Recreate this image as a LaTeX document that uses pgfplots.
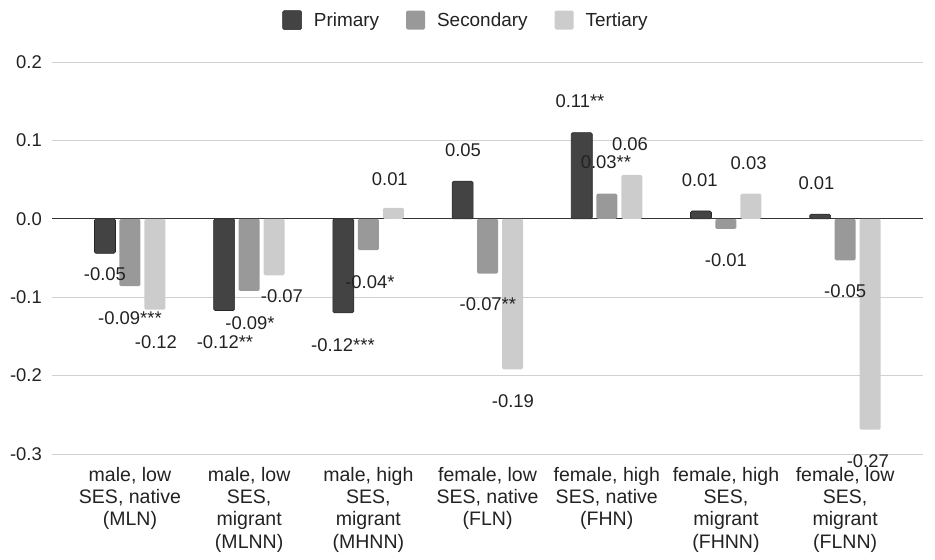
\documentclass[border=0pt]{standalone}
\usepackage{pgfplots}
\pgfplotsset{compat=1.18}
\usepackage{fontspec}
\setmainfont{Liberation Sans}
\definecolor{cP}{HTML}{434343}
\definecolor{cS}{HTML}{999999}
\definecolor{cT}{HTML}{CCCCCC}
\definecolor{txt}{HTML}{222222}
\begin{document}
\begin{tikzpicture}[font=\fontsize{18.5}{22.3}\selectfont]
\path[use as bounding box] (-52bp,-106bp) rectangle (883bp,454bp);
\begin{axis}[
  at={(0,0)}, anchor=south west,
  scale only axis, width=871bp, height=392bp,
  xmin=-0.654, xmax=6.653, ymin=-0.3, ymax=0.2,
  clip=false,
  ybar=4bp, bar width=21bp,
  axis line style={draw=none},
  major tick length=0pt,
  ytick={-0.3,-0.2,-0.1,0.1,0.2},
  yticklabels={-0.3,-0.2,-0.1,0.1,0.2},
  extra y ticks={0},
  extra y tick labels={0.0},
  extra y tick style={grid style={draw=black!80, line width=1.2bp}},
  ymajorgrids,
  grid style={draw=black!18, line width=1bp},
  yticklabel style={anchor=east, inner sep=0pt, xshift=-10bp, text=txt},
  xtick={0,1,2,3,4,5,6},
  xticklabels={{male, low\\SES, native\\(MLN)},
               {male, low\\SES,\\migrant\\(MLNN)},
               {male, high\\SES,\\migrant\\(MHNN)},
               {female, low\\SES, native\\(FLN)},
               {female, high\\SES, native\\(FHN)},
               {female, high\\SES,\\migrant\\(FHNN)},
               {female, low\\SES,\\migrant\\(FLNN)}},
  xticklabel style={align=center, anchor=north, inner sep=0pt, yshift=-13bp, text=txt,
    font=\fontsize{19.6}{22.3}\selectfont},
  legend columns=3,
  legend style={at={(0.4753,1.107)}, anchor=center, draw=none, fill=none,
    text=txt, font=\fontsize{19}{22}\selectfont,
    /tikz/every odd column/.append style={column sep=10bp},
    /tikz/every even column/.append style={column sep=25bp}},
  legend image code/.code={\fill[#1] (0bp,-9.5bp) rectangle (19bp,9.5bp);},
]
\addplot[fill=cP, draw=black!85, line width=0.6bp, rounded corners=1.5bp] coordinates
  {(0,-0.044) (1,-0.117) (2,-0.120) (3,0.048) (4,0.110) (5,0.010) (6,0.006)};
\addplot[fill=cS, draw=none, rounded corners=1.5bp] coordinates
  {(0,-0.086) (1,-0.092) (2,-0.040) (3,-0.070) (4,0.032) (5,-0.013) (6,-0.053)};
\addplot[fill=cT, draw=none, rounded corners=1.5bp] coordinates
  {(0,-0.116) (1,-0.072) (2,0.014) (3,-0.192) (4,0.056) (5,0.032) (6,-0.269)};
\legend{Primary,Secondary,Tertiary}
\begin{scope}[every node/.style={text=txt, inner sep=0pt}]
\node at (axis cs:-0.21,-0.071) {-0.05};
\node at (axis cs:0.0,-0.127) {-0.09***};
\node at (axis cs:0.218,-0.157) {-0.12};
\node at (axis cs:0.797,-0.157) {-0.12**};
\node at (axis cs:1.007,-0.133) {-0.09*};
\node at (axis cs:1.275,-0.099) {-0.07};
\node at (axis cs:1.787,-0.161) {-0.12***};
\node at (axis cs:2.013,-0.081) {-0.04*};
\node at (axis cs:2.18,0.051) {0.01};
\node at (axis cs:2.794,0.087) {0.05};
\node at (axis cs:3.003,-0.109) {-0.07**};
\node at (axis cs:3.213,-0.233) {-0.19};
\node at (axis cs:3.775,0.150) {0.11**};
\node at (axis cs:3.993,0.072) {0.03**};
\node at (axis cs:4.195,0.095) {0.06};
\node at (axis cs:4.78,0.049) {0.01};
\node at (axis cs:5.0,-0.053) {-0.01};
\node at (axis cs:5.19,0.0706) {0.03};
\node at (axis cs:5.76,0.046) {0.01};
\node at (axis cs:6.0,-0.0928) {-0.05};
\node at (axis cs:6.19,-0.309) {-0.27};
\end{scope}
\end{axis}
\end{tikzpicture}
\end{document}
